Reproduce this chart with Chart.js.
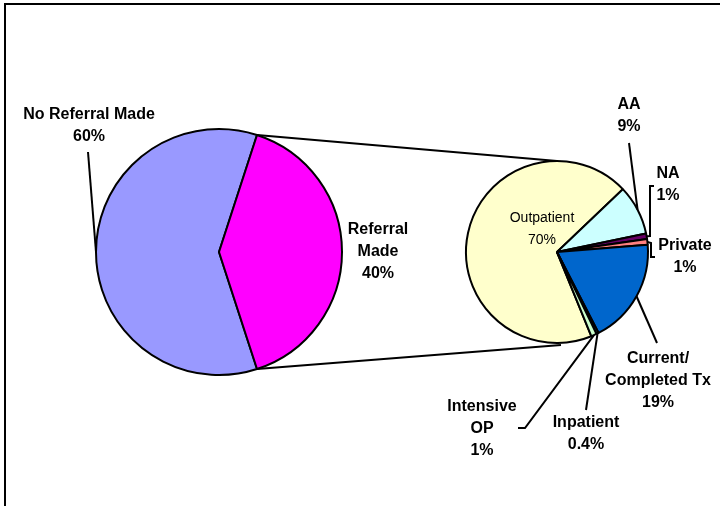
<!DOCTYPE html>
<html>
<head>
<meta charset="utf-8">
<script src="https://cdn.jsdelivr.net/npm/chart.js@4.4.1/dist/chart.umd.min.js"></script>
<style>
  html, body { margin: 0; padding: 0; background: #fff; overflow: hidden; }
  #wrap { position: relative; width: 720px; height: 506px; }
  #wrap canvas { position: absolute; left: 0; top: 0; }
  #frame { position: absolute; left: 4px; top: 3px; width: 800px; height: 600px; border: 2px solid #000; }
</style>
</head>
<body>
<div id="wrap">
  <div id="frame"></div>
  <canvas id="mainPie" width="720" height="506"></canvas>
  <canvas id="subPie" width="720" height="506"></canvas>
</div>
<script>
// data
const mainCategories = ["No Referral Made", "Referral Made"];
const mainValues = [60, 40];
const subCategories = ["Outpatient", "AA", "NA", "Private", "Current/Completed Tx", "Inpatient", "Intensive OP"];
const subValues = [70, 9, 1, 1, 19, 0.4, 1];

const mainColors = ["#9999FF", "#FF00FF"];
const subColors = ["#FFFFCC", "#CCFFFF", "#660066", "#FF8080", "#0066CC", "#99CCFF", "#CCFFCC"];

const FONT = "'Liberation Sans', Arial, sans-serif";

// label placement (text wraps + anchor + leader line bends)
const mainLayout = [
  { lines: ["No Referral Made"], x: 89, y: 115, leader: [[88, 152]] },
  { lines: ["Referral", "Made"], x: 378, y: 230 },
];
const subLayout = [
  { lines: ["Outpatient"], x: 542, y: 218, bold: false, size: 14 },
  { lines: ["AA"], x: 629, y: 105, leader: [[629, 143]] },
  { lines: ["NA"], x: 668, y: 174, leader: [[650, 236], [650, 186], [654, 186]] },
  { lines: ["Private"], x: 685, y: 246, leader: [[651, 243], [651, 257], [655, 257]] },
  { lines: ["Current/", "Completed Tx"], x: 658, y: 359, leader: [[657, 343]] },
  { lines: ["Inpatient"], x: 586, y: 423, leader: [[586, 410]] },
  { lines: ["Intensive", "OP"], x: 482, y: 407, leader: [[525, 428], [518, 428]] },
];

const makeLabelPlugin = (layout, values) => ({
  id: "pieLabels",
  afterDatasetsDraw(chart) {
    const ctx = chart.ctx;
    const meta = chart.getDatasetMeta(0);
    ctx.save();
    ctx.strokeStyle = "#000";
    ctx.lineWidth = 2;
    ctx.fillStyle = "#000";
    ctx.textAlign = "center";
    ctx.textBaseline = "middle";
    layout.forEach((lab, i) => {
      const arc = meta.data[i];
      if (lab.leader) {
        const mid = (arc.startAngle + arc.endAngle) / 2;
        ctx.beginPath();
        ctx.moveTo(arc.x + Math.cos(mid) * arc.outerRadius, arc.y + Math.sin(mid) * arc.outerRadius);
        lab.leader.forEach((p) => ctx.lineTo(p[0], p[1]));
        ctx.stroke();
      }
      ctx.font = (lab.bold === false ? "" : "bold ") + (lab.size || 16) + "px " + FONT;
      const lines = lab.lines.concat([values[i] + "%"]);
      lines.forEach((t, k) => ctx.fillText(t, lab.x, lab.y + k * 22));
    });
    ctx.restore();
  },
});

// lines joining the "Referral Made" slice to the second pie
const connectorPlugin = {
  id: "connectors",
  afterDatasetsDraw(chart) {
    const arc = mainChart.getDatasetMeta(0).data[1];
    const sub = chart.getDatasetMeta(0).data[0];
    const ctx = chart.ctx;
    ctx.save();
    ctx.strokeStyle = "#000";
    ctx.lineWidth = 2;
    ctx.beginPath();
    ctx.moveTo(arc.x + Math.cos(arc.startAngle) * arc.outerRadius, arc.y + Math.sin(arc.startAngle) * arc.outerRadius);
    ctx.lineTo(sub.x, sub.y - sub.outerRadius);
    ctx.moveTo(arc.x + Math.cos(arc.endAngle) * arc.outerRadius, arc.y + Math.sin(arc.endAngle) * arc.outerRadius);
    ctx.lineTo(sub.x + 4, sub.y + sub.outerRadius + 2);
    ctx.stroke();
    ctx.restore();
  },
};

const baseOptions = (padding, radius, rotation) => ({
  responsive: false,
  animation: false,
  events: [],
  radius: radius,
  rotation: rotation,
  layout: { padding: padding },
  plugins: { legend: { display: false }, tooltip: { enabled: false } },
});

const mainChart = new Chart(document.getElementById("mainPie"), {
  type: "pie",
  data: {
    labels: mainCategories,
    datasets: [{ data: mainValues, backgroundColor: mainColors, borderColor: "#000", borderWidth: 2 }],
  },
  options: baseOptions({ left: 80, right: 362, top: 120, bottom: 122 }, 123, 162),
  plugins: [makeLabelPlugin(mainLayout, mainValues)],
});

new Chart(document.getElementById("subPie"), {
  type: "pie",
  data: {
    labels: subCategories,
    datasets: [{ data: subValues, backgroundColor: subColors, borderColor: "#000", borderWidth: 2 }],
  },
  options: baseOptions({ left: 450, right: 56, top: 150, bottom: 152 }, 91, 157.8),
  plugins: [connectorPlugin, makeLabelPlugin(subLayout, subValues)],
});
</script>
</body>
</html>
